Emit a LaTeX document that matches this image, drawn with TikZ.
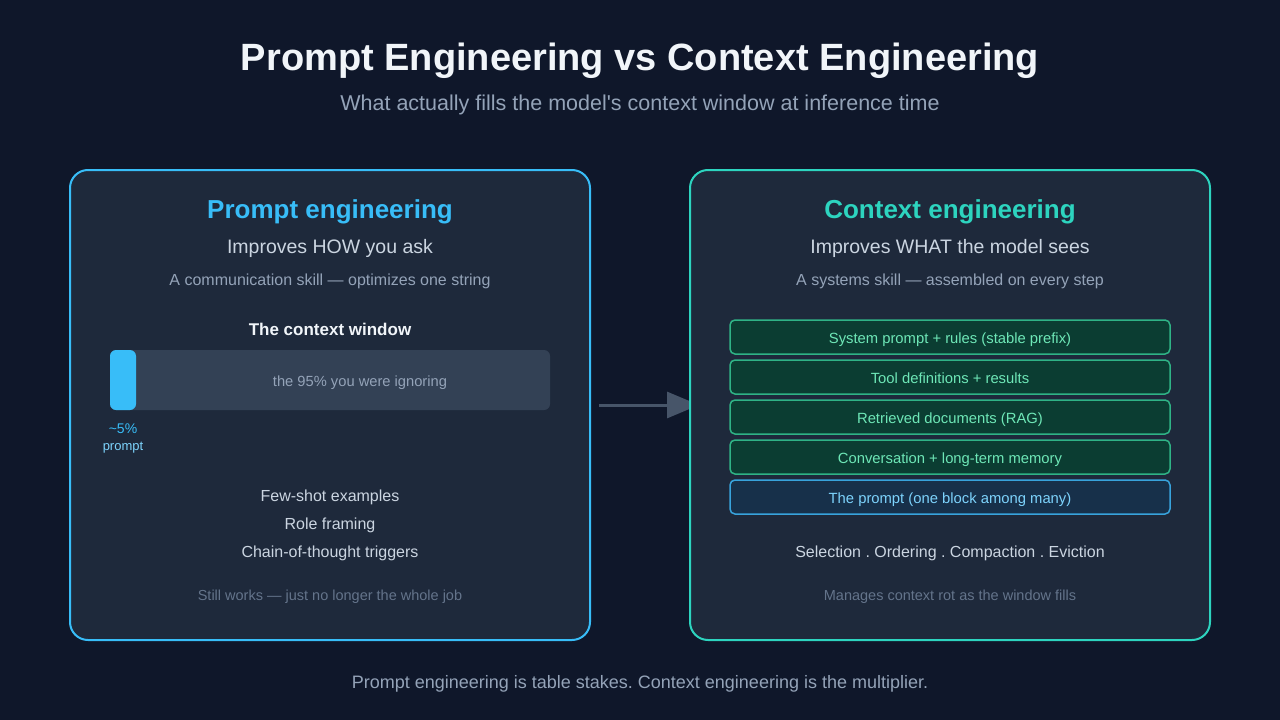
\documentclass[tikz,border=0pt]{standalone}
\usepackage{fontspec}
\setmainfont{Liberation Sans}
\usepackage{tikz}
\usetikzlibrary{arrows.meta,positioning}
\pgfdeclarelayer{background}
\pgfsetlayers{background,main}
\definecolor{bgdark}{HTML}{0F172A}
\definecolor{panelfill}{HTML}{1E293B}
\definecolor{cyanb}{HTML}{38BDF8}
\definecolor{tealb}{HTML}{2DD4BF}
\definecolor{txtwhite}{HTML}{F1F5F9}
\definecolor{txtlight}{HTML}{CBD5E1}
\definecolor{txtmid}{HTML}{94A3B8}
\definecolor{txtdim}{HTML}{64748B}
\definecolor{barfill}{HTML}{334155}
\definecolor{arrgray}{HTML}{475569}
\definecolor{layfill}{HTML}{0B3D32}
\definecolor{layborder}{HTML}{2FB386}
\definecolor{laytext}{HTML}{6EE7B7}
\definecolor{pfill}{HTML}{17304A}
\definecolor{pborder}{HTML}{38A3DC}
\definecolor{ptext}{HTML}{7DD3FC}
\newcommand{\fsz}[1]{\fontsize{#1}{#1}\selectfont}
\frenchspacing
\tikzset{
  panel/.style={rectangle, draw, line width=2pt, rounded corners=18pt, fill=panelfill,
                minimum width=520pt, minimum height=470pt, inner sep=0pt},
  txt/.style={inner sep=0pt, align=center, yshift=-2pt},
  layer/.style={rectangle, draw=layborder, line width=1.5pt, rounded corners=5pt, fill=layfill,
                minimum width=440pt, minimum height=34pt, inner sep=0pt, text=laytext,
                text height=13pt, text depth=0pt, font=\fsz{14.8}},
  plyer/.style={layer, draw=pborder, fill=pfill, text=ptext},
  arr/.style={-{Triangle[length=32pt, width=26pt]}, line width=3pt, draw=arrgray}
}
\begin{document}
\begin{tikzpicture}[x=1pt, y=-1pt]
  \begin{pgfonlayer}{background}
    \fill[bgdark] (0,0) rectangle (1280,720);
  \end{pgfonlayer}
  % header
  \node[txt, text=txtwhite, font=\fsz{38}\bfseries] (title) at (640,59) {Prompt Engineering vs Context Engineering};
  \node[txt, text=txtmid, font=\fsz{21.5}] (subtitle) at (640,103) {What actually fills the model\textquotesingle s context window at inference time};
  % panels
  \node[panel, draw=cyanb] (left) at (330,405) {};
  \node[panel, draw=tealb] (right) at (950,405) {};
  \begin{pgfonlayer}{background}
    \draw[arr] ([xshift=8pt]left.east) -- ([xshift=10pt]right.west);
  \end{pgfonlayer}
  % left panel
  \node[txt, text=cyanb, font=\fsz{26}\bfseries] (lhead) at (330,210) {Prompt engineering};
  \node[txt, text=txtlight, font=\fsz{19.5}] (lsub) at (330,246) {Improves HOW you ask};
  \node[txt, text=txtmid, font=\fsz{16}] (lnote) at (330,279) {A communication skill --- optimizes one string};
  \node[txt, text=txtwhite, font=\fsz{17}\bfseries] (wlabel) at (330,327) {The context window};
  \node[rectangle, fill=barfill, rounded corners=6pt, minimum width=440pt, minimum height=60pt, inner sep=0pt] (bar) at (330,380) {};
  \node[rectangle, fill=cyanb, rounded corners=6pt, minimum width=26pt, minimum height=60pt, inner sep=0pt] (pblock) at (123,380) {};
  \node[txt, text=txtmid, font=\fsz{14.7}] (rest) at (360,381) {the 95\% you were ignoring};
  \node[txt, text=cyanb, font=\fsz{14}] (pct) at (123,427) {\textasciitilde5\%};
  \node[txt, text=ptext, font=\fsz{13}] (plbl) at (123,446) {prompt};
  \node[txt, text=txtlight, font=\fsz{16}] (t1) at (330,495) {Few-shot examples};
  \node[txt, text=txtlight, font=\fsz{16}] (t2) at (330,523) {Role framing};
  \node[txt, text=txtlight, font=\fsz{16}] (t3) at (330,551) {Chain-of-thought triggers};
  \node[txt, text=txtdim, font=\fsz{14.5}] (lfoot) at (330,595) {Still works --- just no longer the whole job};
  % right panel
  \node[txt, text=tealb, font=\fsz{26}\bfseries] (rhead) at (950,210) {Context engineering};
  \node[txt, text=txtlight, font=\fsz{19.5}] (rsub) at (950,246) {Improves WHAT the model sees};
  \node[txt, text=txtmid, font=\fsz{16}] (rnote) at (950,279) {A systems skill --- assembled on every step};
  \node[layer] (l1) at (950,337) {System prompt + rules (stable prefix)};
  \node[layer] (l2) at (950,377) {Tool definitions + results};
  \node[layer] (l3) at (950,417) {Retrieved documents (RAG)};
  \node[layer] (l4) at (950,457) {Conversation + long-term memory};
  \node[plyer] (l5) at (950,497) {The prompt (one block among many)};
  \node[txt, text=txtlight, font=\fsz{16}] (ops) at (950,551) {Selection . Ordering . Compaction . Eviction};
  \node[txt, text=txtdim, font=\fsz{14.5}] (rfoot) at (950,595) {Manages context rot as the window fills};
  % footer
  \node[txt, text=txtmid, font=\fsz{18}] (footer) at (640,682) {Prompt engineering is table stakes. Context engineering is the multiplier.};
\end{tikzpicture}
\end{document}
